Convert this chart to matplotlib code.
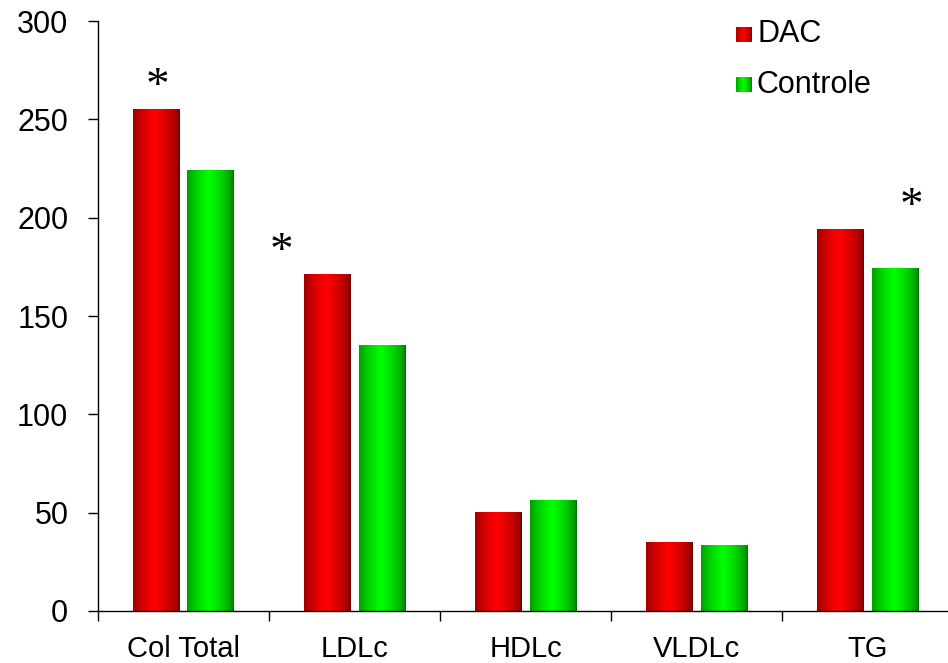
import numpy as np
import matplotlib
matplotlib.use("Agg")
import matplotlib.pyplot as plt
from matplotlib.colors import to_rgb

plt.rcParams['font.family'] = ['Liberation Sans', 'DejaVu Sans']

categories = ["Col Total", "LDLc", "HDLc", "VLDLc", "TG"]
dac = [255, 171, 50, 35, 194]
controle = [224, 135, 56, 33.5, 174]
series_names = ["DAC", "Controle"]
yticks = [0, 50, 100, 150, 200, 250, 300]

# significance marks: (x in category units, y in data units)
star_x = [-0.15, 0.573, 4.257]
star_y = [270, 186, 209]

fig = plt.figure(figsize=(9.48, 6.63), dpi=100)
W, H = 948, 663
ax = fig.add_axes([97.5 / W, (H - 611) / H, (953.5 - 97.5) / W, (611 - 21) / H])

bar_w = 0.27
offset = 0.16


def cylinder(base, n=64):
    t = np.linspace(0, 1, n)
    s = 1 - np.clip(np.abs(t - 0.47) / 0.53, 0, 1)
    k = 0.42 + 0.58 * s ** 0.5
    rgb = np.array(base)[None, :] * k[:, None]
    return rgb[None, :, :]


red_img = cylinder(to_rgb("#ff0000"))
green_img = cylinder(to_rgb("#00ff00"))

x = np.arange(len(categories))
for vals, img, sgn in ((dac, red_img, -1), (controle, green_img, 1)):
    for xi, v in zip(x, vals):
        x0 = xi + sgn * offset - bar_w / 2
        ax.imshow(img, extent=[x0, x0 + bar_w, 0, v], aspect='auto',
                  interpolation='bilinear', zorder=2)

for sx, sy in zip(star_x, star_y):
    ax.annotate("*", (sx, sy), xytext=(0, -5.5), textcoords='offset points',
                ha='center', va='center', fontsize=34,
                family='Liberation Serif', color='black', zorder=3)

ax.set_xlim(-0.5, len(categories) - 0.5)
ax.set_ylim(0, 300)
ax.set_yticks(yticks)
ax.set_yticklabels([str(t) for t in yticks])
ax.set_xticks(x)
ax.set_xticklabels(categories)
ax.set_xticks(np.arange(len(categories) + 1) - 0.5, minor=True)
ax.tick_params(axis='x', which='major', length=0, pad=17, labelsize=21)
ax.tick_params(axis='x', which='minor', length=7, width=1, direction='out')
ax.tick_params(axis='y', length=7, width=1, direction='out', pad=14, labelsize=22)
for side in ('top', 'right'):
    ax.spines[side].set_visible(False)
for side in ('left', 'bottom'):
    ax.spines[side].set_linewidth(1)

# legend entries with shaded swatches
leg_y = [(611 - 34) / 590, (611 - 84.5) / 590]
for name, img, ly in zip(series_names, (red_img, green_img), leg_y):
    sw = 15 / 856
    sh = 15 / 590
    x0 = (736 - 97.5) / 856
    ax.imshow(img, extent=[x0, x0 + sw, ly - sh / 2, ly + sh / 2], aspect='auto',
              transform=ax.transAxes, zorder=3, interpolation='bilinear')
    ax.text((757 - 97.5) / 856, ly, name, transform=ax.transAxes, fontsize=22,
            va='center', ha='left')

ax.set_xlim(-0.5, len(categories) - 0.5)
ax.set_ylim(0, 300)

fig.savefig("out.png", dpi=100)
